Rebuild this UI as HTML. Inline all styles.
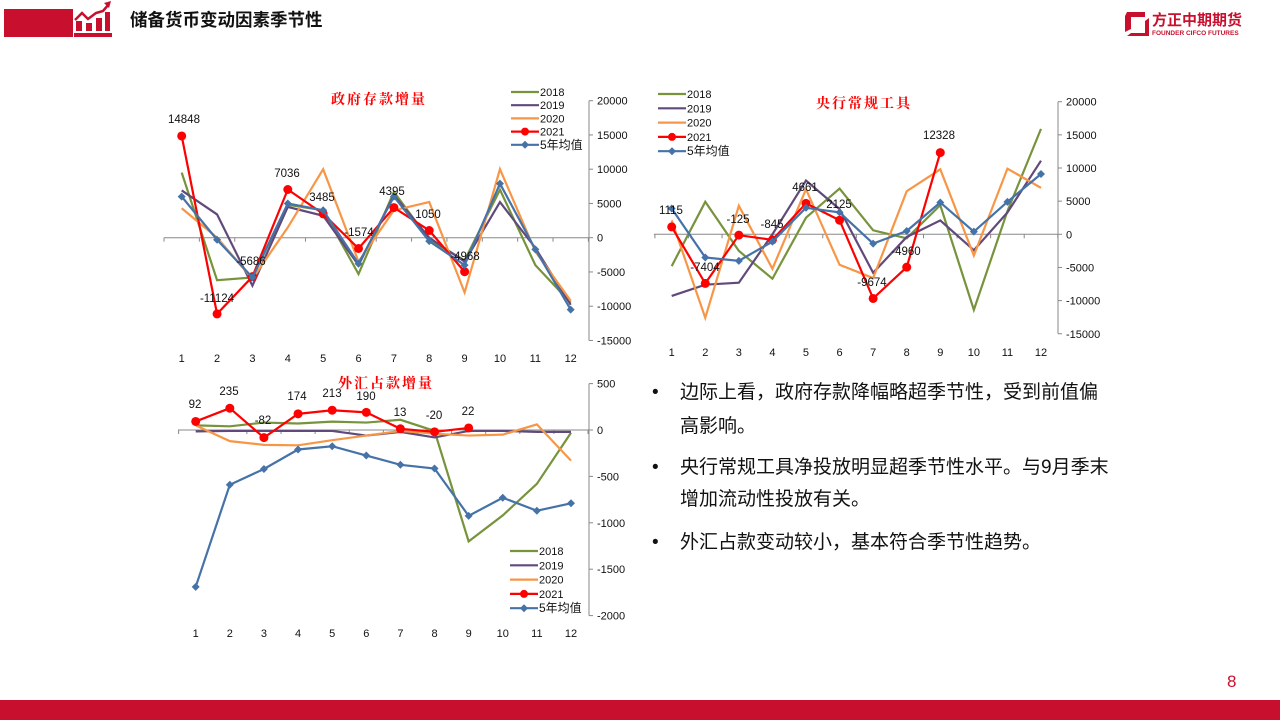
<!DOCTYPE html>
<html><head><meta charset="utf-8"><style>
body{margin:0;width:1280px;height:720px;overflow:hidden;background:#fff;font-family:"Liberation Sans","Noto Sans CJK SC",sans-serif;}
</style></head><body>
<svg id="s" width="1280" height="720" xmlns="http://www.w3.org/2000/svg" style="position:absolute;left:0;top:0">
<rect x="4" y="9" width="69" height="28" fill="#c8102e"/>
<rect x="74" y="33" width="38" height="4" fill="#c8102e"/>
<path d="M75 20 L82 13 L88 19 L96 13 L103 11 L109 4" stroke="#c8102e" stroke-width="2.5" fill="none"/>
<polygon points="111,1 104,3 109,8" fill="#c8102e"/>
<rect x="76" y="21" width="6" height="10" fill="#c8102e"/><rect x="86" y="23" width="6" height="8" fill="#c8102e"/><rect x="96" y="18" width="6" height="13" fill="#c8102e"/><rect x="105" y="12" width="5" height="19" fill="#c8102e"/>
<text x="130" y="26" font-size="17.5" font-weight="bold" fill="#111">储备货币变动因素季节性</text>
<polygon points="1127,12 1145,12 1145,17 1131,17 1131,29 1125,32 1125,16" fill="#c8102e"/>
<polygon points="1131,33 1145,33 1145,21 1149,18 1149,36 1127,36" fill="#c8102e"/>
<text x="1152" y="25" font-size="15" font-weight="bold" fill="#c8102e">方正中期期货</text>
<text x="1152" y="35" font-size="6.5" font-weight="bold" fill="#c8102e">FOUNDER CIFCO FUTURES</text>
<rect x="0" y="700" width="1280" height="20" fill="#c8102e"/>
<text x="1227" y="687" font-size="17" fill="#c8102e">8</text>
<g font-size="19" fill="#111">
<text x="652" y="398">•</text><text x="680" y="398">边际上看，政府存款降幅略超季节性，受到前值偏</text>
<text x="680" y="432">高影响。</text>
<text x="652" y="473">•</text><text x="680" y="473">央行常规工具净投放明显超季节性水平。与9月季末</text>
<text x="680" y="505">增加流动性投放有关。</text>
<text x="652" y="548">•</text><text x="680" y="548">外汇占款变动较小，基本符合季节性趋势。</text>
</g>
<g id="c"></g>
</svg>
<script>
var NS="http://www.w3.org/2000/svg",g=document.getElementById('c');
function el(t,a,txt){var e=document.createElementNS(NS,t);for(var k in a)e.setAttribute(k,a[k]);if(txt!=null)e.textContent=txt;g.appendChild(e);return e;}
var C=['#77933c','#604a7b','#f79646','#ff0000','#4572a7'];
function chart(o){
 var X=function(i){return o.x1+i*(o.x12-o.x1)/11},Y=function(v){return o.y0-v*o.k};
 el('line',{x1:o.ax0,y1:Y(0),x2:o.axis,y2:Y(0),stroke:'#888','stroke-width':1});
 for(var i=0;i<=12;i++){var xx=o.x1-(o.x12-o.x1)/22+i*(o.x12-o.x1)/11;el('line',{x1:xx,y1:Y(0),x2:xx,y2:Y(0)+4,stroke:'#888'});}
 el('line',{x1:o.axis,y1:Y(o.ymax),x2:o.axis,y2:Y(o.ymin),stroke:'#888'});
 for(var v=o.ymin;v<=o.ymax;v+=o.step){el('line',{x1:o.axis,y1:Y(v),x2:o.axis+4,y2:Y(v),stroke:'#888'});el('text',{x:o.axis+8,y:Y(v)+4,'font-size':11,fill:'#111'},v);}
 for(var i=0;i<12;i++)el('text',{x:X(i),y:o.xl,'font-size':11,'text-anchor':'middle',fill:'#111'},i+1);
 o.d.forEach(function(d,s){var p=d.map(function(v,i){return X(i)+','+Y(v)}).join(' ');
  el('polyline',{points:p,fill:'none',stroke:C[s],'stroke-width':2.2});
  if(s==3)d.forEach(function(v,i){el('circle',{cx:X(i),cy:Y(v),r:4.5,fill:'#ff0000'});});
  if(s==4)d.forEach(function(v,i){var x=X(i),y=Y(v);el('polygon',{points:(x-4)+','+y+' '+x+','+(y-4)+' '+(x+4)+','+y+' '+x+','+(y+4),fill:C[4]});});
 });
 o.lab.forEach(function(l){el('text',{x:l[1],y:l[2]+4,'font-size':11.5,'text-anchor':'middle',fill:'#111'},l[0]);});
 el('text',{x:o.tx,y:o.ty,'font-size':14,'font-weight':'bold',fill:'#ff0000','font-family':'"Noto Serif CJK SC",serif','letter-spacing':'2'},o.title);
 var n=['2018','2019','2020','2021','5年均值'];
 n.forEach(function(t,i){var y=o.ly+i*o.ld;el('line',{x1:o.lx,y1:y,x2:o.lx+28,y2:y,stroke:C[i],'stroke-width':2.2});
  if(i==3)el('circle',{cx:o.lx+14,cy:y,r:4,fill:'#f00'});
  if(i==4)el('polygon',{points:(o.lx+10)+','+y+' '+(o.lx+14)+','+(y-4)+' '+(o.lx+18)+','+y+' '+(o.lx+14)+','+(y+4),fill:C[4]});
  el('text',{x:o.lx+29,y:y+4,'font-size':i==4?12:11,fill:'#111'},t);});
}
chart({x1:181.7,x12:570.7,y0:237.7,k:0.00685,axis:589,ax0:164,ymin:-15000,ymax:20000,step:5000,xl:362,
 d:[[9500,-6200,-5800,4800,4000,-5300,6700,-300,-3300,7000,-4000,-9500],
 [6900,3400,-7000,4500,3200,-4000,6200,0,-3500,5200,-1500,-9800],
 [4300,0,-6000,1500,10000,-3500,4000,5200,-8000,10000,-2000,-9200],
 [14848,-11124,-5686,7036,3485,-1574,4395,1050,-4968],
 [6000,-300,-5800,5000,4000,-3800,6000,-500,-4000,7900,-1700,-10500]],
 lab:[['14848',184,119],['-11124',217,298],['-5686',251,261],['7036',287,173],['3485',322,197],['-1574',359,232],['4395',392,191],['1050',428,214],['-4968',465,256]],
 title:'政府存款增量',tx:331,ty:104,lx:511,ly:92,ld:13.2});
chart({x1:671.7,x12:1041,y0:234.3,k:0.00663,axis:1058,ax0:654,ymin:-15000,ymax:20000,step:5000,xl:356,
 d:[[-4800,4900,-2500,-6700,2500,6900,600,-600,4400,-11400,3500,15900],
 [-9300,-7600,-7300,0,8100,3800,-5800,-400,2100,-2400,3300,11100],
 [2100,-12600,4300,-5200,6800,-4600,-6600,6500,9800,-3200,9900,7000],
 [1115,-7404,-125,-845,4661,2125,-9674,-4960,12328],
 [3900,-3500,-4000,-1100,4000,3300,-1400,500,4800,400,4900,9100]],
 lab:[['1115',671,210],['-7404',705,267],['-125',738,219],['-845',772,224],['4661',805,187],['2125',839,204],['-9674',872,282],['-4960',906,251],['12328',939,135]],
 title:'央行常规工具',tx:816,ty:108,lx:658,ly:94,ld:14.3});
chart({x1:195.7,x12:571,y0:430,k:0.0928,axis:589,ax0:178,ymin:-2000,ymax:500,step:500,xl:637,
 d:[[50,40,80,70,90,80,110,-10,-1200,-920,-580,-30],
 [-15,-10,-10,-10,-10,-60,-20,-80,-10,-10,-20,-20],
 [50,-120,-160,-165,-110,-60,-10,-40,-60,-50,60,-330],
 [92,235,-82,174,213,190,13,-20,22],
 [-1690,-590,-420,-210,-175,-275,-375,-415,-925,-730,-870,-790]],
 lab:[['92',195,404],['235',229,391],['-82',263,420],['174',297,396],['213',332,393],['190',366,396],['13',400,412],['-20',434,415],['22',468,411]],
 title:'外汇占款增量',tx:338,ty:388,lx:510,ly:551,ld:14.3});
</script>
</body></html>
